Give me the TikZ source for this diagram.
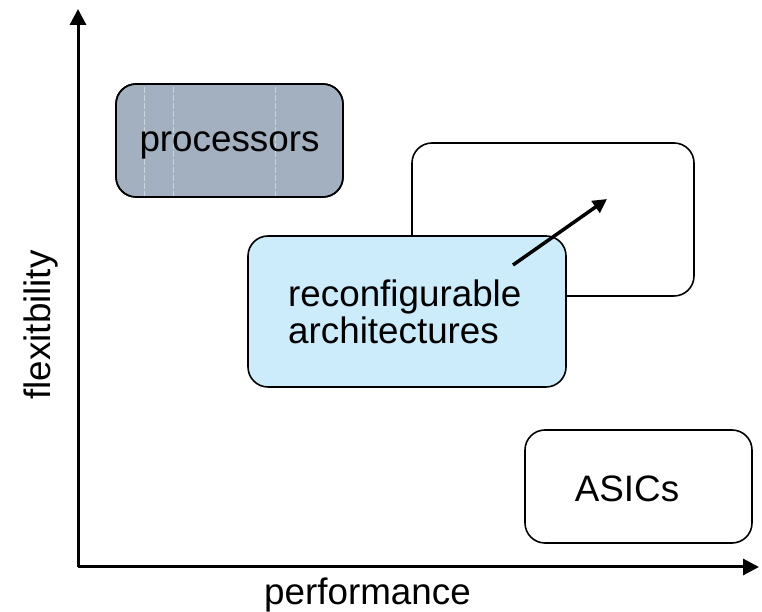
\documentclass[tikz,border=0pt]{standalone}
\usepackage{fontspec}
\setmainfont{Liberation Sans}
\usetikzlibrary{arrows.meta}
\definecolor{procfill}{HTML}{A2B0C0}
\definecolor{reconffill}{HTML}{CCECFC}
\tikzset{
  box/.style={draw=black, line width=1.6pt, rounded corners=20pt},
  axis/.style={line width=3pt, -{Triangle[length=16pt,width=16pt]}},
  lbl/.style={font=\fontsize{36.8}{37}\selectfont, inner sep=0pt},
}
\begin{document}
\begin{tikzpicture}[x=1pt,y=1pt]
\useasboundingbox (0,0) rectangle (762,612);
% axes
\coordinate (o) at (78,45);
\coordinate (ytip) at (78,603);
\coordinate (xtip) at (759,45);
\draw[axis] (o) -- (ytip);
\draw[axis] (o) -- (xtip);
% empty box
\draw[box, fill=white] (412,316) rectangle (694,469);
% processors
\draw[box, fill=procfill] (116,415) rectangle (343,528);
\begin{scope}
\clip[rounded corners=20pt] (116,415) rectangle (343,528);
\draw[white!45!procfill, line width=0.5pt, dash pattern=on 6pt off 2pt] (144,415) -- (144,528) (173,415) -- (173,528) (275,415) -- (275,528);
\end{scope}
\draw[black, line width=1.6pt, rounded corners=20pt] (116,415) rectangle (343,528);
\node[lbl, anchor=base] (proc) at (229.5,460) {processors};
% reconfigurable
\draw[box, fill=reconffill] (248,225) rectangle (566,376);
\node[lbl, anchor=base west, align=left] (rec) at (288,268) {reconfigurable\\architectures};
% arrow
\coordinate (as) at (513,347);
\coordinate (ae) at (607,413);
\draw[line width=3.5pt, -{Triangle[length=14pt,width=14pt]}] (as) -- (ae);
% ASICs
\draw[box, fill=white] (525,69) rectangle (752,182);
\node[lbl, anchor=base] (asic) at (627,110) {ASICs};
% axis labels
\node[lbl, anchor=base, rotate=90] (flex) at (50,287) {flexitbility};
\node[lbl, anchor=base] (perf) at (367.5,7) {performance};
\end{tikzpicture}
\end{document}
